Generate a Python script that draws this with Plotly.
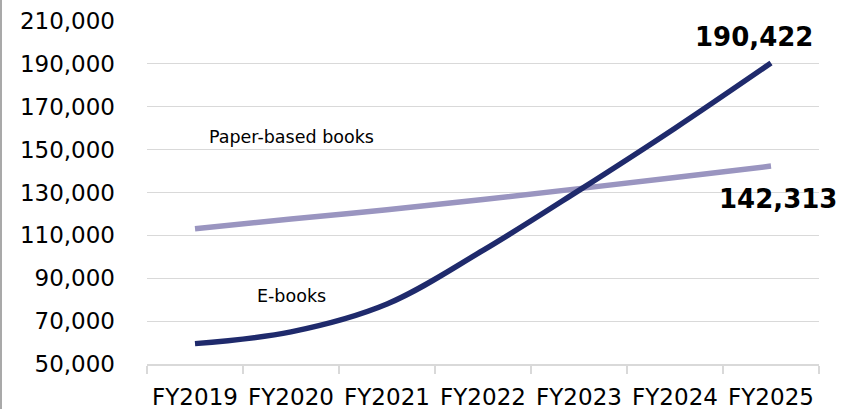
import plotly.graph_objects as go

# Fiscal years and book sales (units)
years = ["FY2019", "FY2020", "FY2021", "FY2022", "FY2023", "FY2024", "FY2025"]
ebooks = [59500, 65000, 78000, 103000, 131000, 160000, 190422]
paper_books = [113100, 117600, 122000, 126700, 131800, 137000, 142313]
y_ticks = [50000, 70000, 90000, 110000, 130000, 150000, 170000, 190000, 210000]

EBOOK_COLOR = "#1f2a6c"
PAPER_COLOR = "#9a95c0"
GRID_COLOR = "#d9d9d9"
TICK_FONT = dict(family="DejaVu Sans", size=23, color="#000000")

W, H = 841, 409
L, R, T, B = 147, 22, 21, 45

fig = go.Figure()
fig.add_trace(go.Scatter(
    x=years, y=paper_books, mode="lines", name="Paper-based books",
    line=dict(color=PAPER_COLOR, width=5.5, shape="spline", smoothing=1),
))
fig.add_trace(go.Scatter(
    x=years, y=ebooks, mode="lines", name="E-books",
    line=dict(color=EBOOK_COLOR, width=5.5, shape="spline", smoothing=1),
))

# Series labels
fig.add_annotation(x="FY2020", y=156000, text="Paper-based books", showarrow=False,
                   font=dict(family="DejaVu Sans", size=17.5, color="#000000"))
fig.add_annotation(x="FY2020", y=81700, text="E-books", showarrow=False,
                   font=dict(family="DejaVu Sans", size=17.5, color="#000000"))

# End-point values
value_font = dict(family="DejaVu Sans", size=26, color="#000000")
fig.add_annotation(x=years[-1], y=ebooks[-1], text=f"<b>{ebooks[-1]:,}</b>",
                   showarrow=False, font=value_font, xshift=-17, yshift=26)
fig.add_annotation(x=years[-1], y=paper_books[-1], text=f"<b>{paper_books[-1]:,}</b>",
                   showarrow=False, font=value_font, xshift=7, yshift=-33)

# Left frame edge
fig.add_shape(type="line", xref="paper", yref="paper",
              x0=(1 - L) / (W - L - R), x1=(1 - L) / (W - L - R),
              y0=-B / (H - T - B), y1=1 + T / (H - T - B),
              line=dict(color="#8c8c8c", width=1.5))

fig.update_layout(
    width=W, height=H,
    margin=dict(l=L, r=R, t=T, b=B, pad=0),
    paper_bgcolor="#ffffff", plot_bgcolor="#ffffff",
    showlegend=False,
    xaxis=dict(
        type="category", range=[-0.5, 6.5], automargin=False,
        tickson="boundaries", ticks="outside", ticklen=8, tickwidth=1.5,
        tickcolor=GRID_COLOR, showline=True, linecolor=GRID_COLOR, linewidth=1.5,
        showgrid=False, tickfont=TICK_FONT, ticklabelstandoff=12,
    ),
    yaxis=dict(
        range=[50000, 210000], tickvals=y_ticks, automargin=False,
        ticktext=[f"{v:,}" for v in y_ticks],
        showgrid=True, gridcolor=GRID_COLOR, gridwidth=1.3,
        zeroline=False, showline=False, ticks="",
        tickfont=TICK_FONT, ticklabelstandoff=31,
    ),
)

fig.write_html("out.html")
